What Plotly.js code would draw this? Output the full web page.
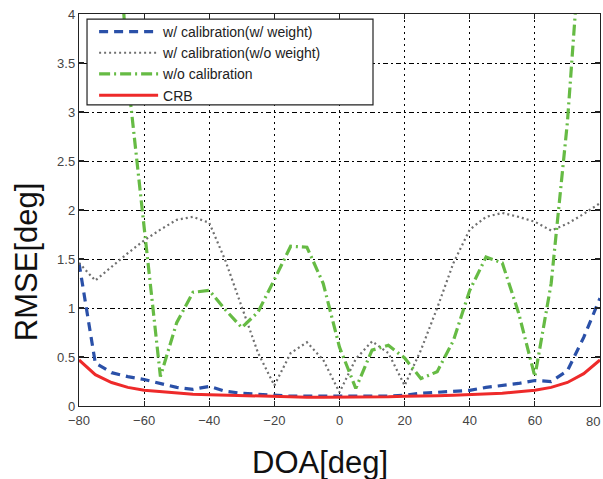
<!DOCTYPE html>
<html>
<head>
<meta charset="utf-8">
<script src="https://cdn.plot.ly/plotly-3.0.1.min.js"></script>
<style>html,body{margin:0;padding:0;background:#fff;}</style>
</head>
<body>
<div id="chart" style="width:603px;height:479px;"></div>
<script>
const doa = [-80,-75,-70,-65,-60,-55,-50,-45,-40,-35,-30,-25,-20,-15,-10,-5,0,5,10,15,20,25,30,35,40,45,50,55,60,65,70,75,80];
const calWeight = [1.46,0.44,0.34,0.30,0.27,0.23,0.19,0.17,0.20,0.15,0.13,0.12,0.11,0.10,0.10,0.10,0.10,0.10,0.10,0.10,0.11,0.13,0.14,0.15,0.16,0.19,0.21,0.23,0.26,0.25,0.36,0.70,1.10];
const calNoWeight = [1.46,1.28,1.42,1.56,1.69,1.80,1.90,1.93,1.87,1.48,1.01,0.54,0.21,0.54,0.65,0.47,0.14,0.48,0.66,0.54,0.21,0.57,1.00,1.46,1.80,1.93,1.97,1.93,1.88,1.79,1.86,1.96,2.07];
const noCal = [10.0,8.0,6.0,3.35,1.82,0.30,0.85,1.16,1.18,0.98,0.80,0.96,1.29,1.63,1.62,1.25,0.60,0.18,0.57,0.62,0.49,0.28,0.35,0.67,1.18,1.52,1.46,0.95,0.30,1.25,2.90,5.30,7.50];
const crb = [0.47,0.32,0.24,0.19,0.16,0.145,0.13,0.12,0.115,0.11,0.105,0.10,0.10,0.095,0.09,0.09,0.09,0.09,0.09,0.095,0.10,0.10,0.105,0.11,0.115,0.12,0.13,0.145,0.16,0.19,0.24,0.33,0.47];
const seriesNames = ['w/ calibration(w/ weight)','w/ calibration(w/o weight)','w/o calibration','CRB'];
const xTicks = [-80,-60,-40,-20,0,20,40,60,80];
const yTicks = [0,0.5,1,1.5,2,2.5,3,3.5,4];

const traces = [
  {x: doa, y: calWeight, name: seriesNames[0], mode: 'lines',
   line: {color: '#2a50a8', width: 3.2, dash: '9px,6px'}},
  {x: doa, y: calNoWeight, name: seriesNames[1], mode: 'lines',
   line: {color: '#707070', width: 2.2, dash: '2px,3px'}},
  {x: doa, y: noCal, name: seriesNames[2], mode: 'lines',
   line: {color: '#66bb44', width: 3.2, dash: '11px,4px,2px,4px'}},
  {x: doa, y: crb, name: seriesNames[3], mode: 'lines',
   line: {color: '#ee2a2a', width: 3}}
];

const axisCommon = {
  showline: true, linecolor: '#222', linewidth: 1.2, mirror: 'ticks',
  ticks: 'inside', ticklen: 5, tickcolor: '#222', tickwidth: 1.2,
  showgrid: true, gridcolor: '#000', gridwidth: 1,
  zeroline: false, tickfont: {size: 13, color: '#444'}
};

const layout = {
  width: 603, height: 479,
  margin: {l: 79, r: 3, t: 14, b: 73},
  paper_bgcolor: '#fff', plot_bgcolor: '#fff',
  font: {family: 'Liberation Sans, Arial, sans-serif', color: '#222'},
  showlegend: true,
  legend: {x: 0.029, y: 0.995, xanchor: 'left', yanchor: 'top',
    bgcolor: 'rgba(0,0,0,0)', borderwidth: 0,
    font: {size: 14, color: '#222'}, itemwidth: 59, tracegroupgap: 0},
  xaxis: Object.assign({}, axisCommon, {range: [-80, 80], tickvals: xTicks,
    griddash: '2px,4px', ticklabelstandoff: 2}),
  yaxis: Object.assign({}, axisCommon, {range: [0, 4], tickvals: yTicks,
    griddash: '2px,3px,5px,3px'}),
  shapes: [
    {type: 'rect', xref: 'paper', yref: 'paper', layer: 'above',
     x0: 0.0154, x1: 0.5643, y0: 0.768, y1: 0.987,
     fillcolor: '#fff', line: {color: '#222', width: 1.2}}
  ],
  annotations: [
    {text: '80', xref: 'x', yref: 'y', x: 80, y: 0, yanchor: 'top', xanchor: 'right',
     xshift: 2, yshift: -6, showarrow: false, font: {size: 13, color: '#444'}},
    {text: 'DOA[deg]', xref: 'paper', yref: 'paper', x: 0.4626, y: -0.143,
     xanchor: 'center', yanchor: 'middle', showarrow: false,
     font: {size: 31, color: '#111'}},
    {text: 'RMSE[deg]', xref: 'paper', yref: 'paper', x: -0.1017, y: 0.367,
     xanchor: 'center', yanchor: 'middle', showarrow: false, textangle: -90,
     font: {size: 31, color: '#111'}}
  ]
};

Plotly.newPlot('chart', traces, layout, {displayModeBar: false, staticPlot: true});
</script>
</body>
</html>
